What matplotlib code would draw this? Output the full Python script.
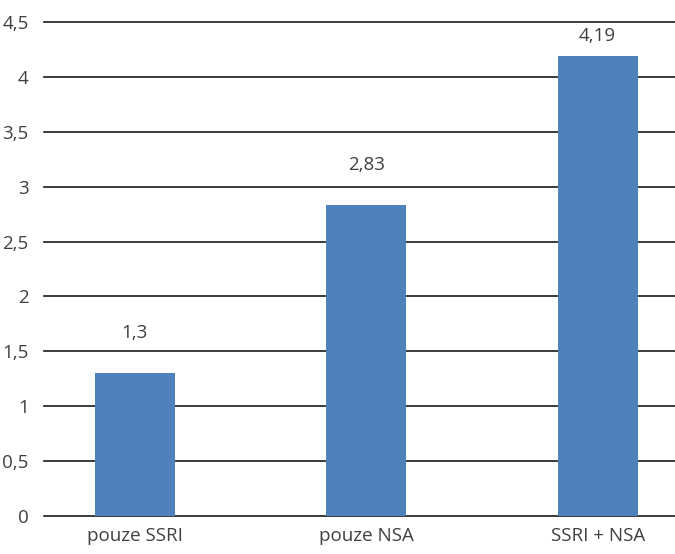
import matplotlib.pyplot as plt

kategorie = ['pouze SSRI', 'pouze NSA', 'SSRI + NSA']
hodnoty = [1.3, 2.83, 4.19]
popisky = ['1,3', '2,83', '4,19']
y_ticks = [0, 0.5, 1, 1.5, 2, 2.5, 3, 3.5, 4, 4.5]
y_labels = ['0', '0,5', '1', '1,5', '2', '2,5', '3', '3,5', '4', '4,5']

plt.rcParams['font.family'] = ['Open Sans', 'DejaVu Sans']

fig = plt.figure(figsize=(6.75, 5.54), dpi=100)
ax = fig.add_axes([44 / 675, 1 - 516 / 554, (675 - 44) / 675, (516 - 22) / 554])

x = range(len(kategorie))
ax.bar(x, hodnoty, width=0.346, color='#4f81bd', zorder=3)

for xi, v, txt in zip(x, hodnoty, popisky):
    ty = min(v + 0.37, 4.5 - 0.13)
    ax.text(xi, ty, txt, ha='center', va='center', fontsize=13.5, color='#404040')

ax.set_xlim(-0.392, 2.334)
ax.set_ylim(0, 4.5)
ax.set_yticks(y_ticks)
ax.set_yticklabels(y_labels)
ax.set_xticks(list(x))
ax.set_xticklabels(kategorie)
ax.tick_params(axis='both', length=0, labelsize=13.5, labelcolor='#404040')
ax.tick_params(axis='y', pad=11)
ax.tick_params(axis='x', pad=8)
ax.yaxis.grid(True, color='#1a1a1a', linewidth=1.2, zorder=0)
for s in ax.spines.values():
    s.set_visible(False)
# gridline at 4.5 sits on the top edge, keep it visible
for gl in ax.get_ygridlines():
    gl.set_clip_on(False)

plt.savefig('out.png', dpi=100)
